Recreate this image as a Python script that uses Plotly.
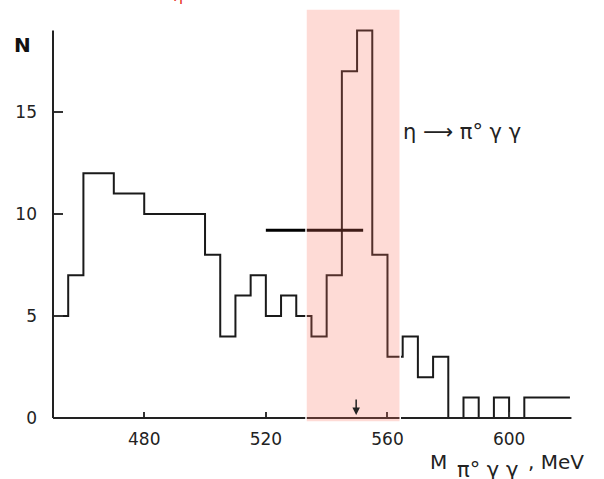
import plotly.graph_objects as go

# Invariant-mass histogram of pi0 gamma gamma events (5 MeV bins)
bin_edges = [450, 455, 460, 465, 470, 475, 480, 485, 490, 495, 500, 505, 510,
             515, 520, 525, 530, 535, 540, 545, 550, 555, 560, 565, 570, 575,
             580, 585, 590, 595, 600, 605, 620]
counts = [5, 7, 12, 12, 11, 11, 10, 10, 10, 10, 8, 4, 6, 7, 5, 6, 5, 4, 7, 17,
          19, 8, 3, 4, 2, 3, 0, 1, 0, 1, 0, 1]

# Mass resolution bar and eta signal window
resolution_x = [520, 552]
resolution_y = [9.2, 9.2]
window = [533.2, 564.2]
eta_mass = 549.7

x_ticks = [480, 520, 560, 600]
y_ticks = [0, 5, 10, 15]

tick_font = dict(family="DejaVu Sans", size=17, color="#222")
label_font = dict(family="DejaVu Sans", size=20, color="#222")
NB = "\u00a0"

fig = go.Figure()

fig.add_trace(go.Scatter(
    x=bin_edges, y=counts + [counts[-1]],
    mode="lines", line=dict(shape="hv", color="#1a1a1a", width=2),
    hoverinfo="skip", showlegend=False,
))

fig.add_trace(go.Scatter(
    x=resolution_x, y=resolution_y,
    mode="lines", line=dict(color="#000", width=3),
    hoverinfo="skip", showlegend=False,
))

# axis lines
fig.add_shape(type="line", xref="x", yref="paper", x0=450, x1=620.5, y0=0, y1=0,
              line=dict(color="#222", width=2))
fig.add_shape(type="line", xref="paper", yref="y", x0=0, x1=0, y0=0, y1=19,
              line=dict(color="#222", width=2))

# shaded signal window
fig.add_shape(type="rect", xref="x", yref="paper", x0=window[0], x1=window[1],
              y0=-0.01, y1=1, layer="above",
              fillcolor="rgba(250,110,90,0.25)", line=dict(color="white", width=1.5))

fig.add_annotation(x=eta_mass, y=0.15, xref="x", yref="y", text="",
                   showarrow=True, ax=0, ay=-17, arrowhead=2, arrowsize=1,
                   arrowwidth=1.5, arrowcolor="#222")

fig.add_annotation(x=564.3, y=14.0, xref="x", yref="y", xanchor="left",
                   yanchor="middle", showarrow=False,
                   text=f"η{NB}⟶{NB}π°{NB}γ{NB}γ",
                   font=dict(family="DejaVu Sans", size=21, color="#222"))

fig.add_annotation(x=-0.059, y=18.3, xref="paper", yref="y", xanchor="center",
                   showarrow=False, text="<b>N</b>",
                   font=dict(family="DejaVu Sans", size=20, color="#111"))

# x-axis title: M with a full-size lowered subscript
fig.add_annotation(x=0.717, y=-0.108, xref="paper", yref="paper",
                   xanchor="left", yanchor="middle", showarrow=False,
                   text="M", font=label_font)
fig.add_annotation(x=0.768, y=-0.128, xref="paper", yref="paper",
                   xanchor="left", yanchor="middle", showarrow=False,
                   text=f"π°{NB}γ{NB}γ",
                   font=dict(family="DejaVu Sans", size=21, color="#222"))
fig.add_annotation(x=0.905, y=-0.108, xref="paper", yref="paper",
                   xanchor="left", yanchor="middle", showarrow=False,
                   text=f",{NB}MeV", font=label_font)

fig.add_annotation(x=0.239, y=1.005, xref="paper", yref="paper",
                   xanchor="center", yanchor="bottom", showarrow=False,
                   text="η", font=dict(family="DejaVu Sans", size=16, color="#e8321e"))

fig.update_xaxes(range=[450, 622], tickvals=x_ticks, ticks="inside", ticklen=6,
                 tickwidth=1.5, tickcolor="#333", showline=False, showgrid=False,
                 zeroline=False, tickfont=tick_font, ticklabelstandoff=9)
fig.update_yaxes(range=[0, 20.05], tickvals=y_ticks, ticks="inside", ticklen=10,
                 tickwidth=1.5, tickcolor="#333", showline=False, showgrid=False,
                 zeroline=False, tickfont=tick_font, ticklabelstandoff=15)

fig.update_layout(
    width=604, height=479,
    margin=dict(l=53, r=28, t=9, b=61),
    plot_bgcolor="white", paper_bgcolor="white",
)

fig.write_html("out.html")
